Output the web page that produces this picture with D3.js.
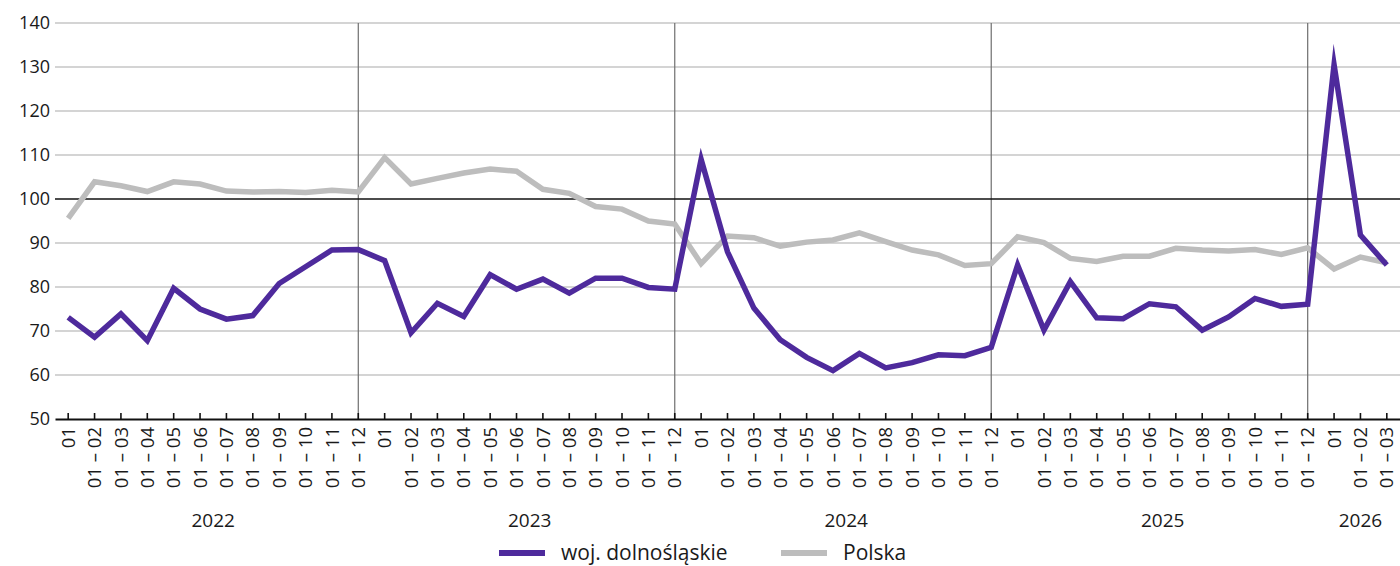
<!DOCTYPE html>
<html>
<head>
<meta charset="utf-8">
<script src="https://cdn.jsdelivr.net/npm/d3@7"></script>
<style>
  html, body { margin: 0; padding: 0; background: #fff; }
  svg { display: block; font-family: "Open Sans", "Noto Sans", sans-serif; }
</style>
</head>
<body>
<svg id="chart" width="1400" height="566"></svg>
<script>
// ---- data ----
const years = ["2022", "2023", "2024", "2025", "2026"];
const monthsPerYear = [12, 12, 12, 12, 3];
const periodLabels = ["01", "01 – 02", "01 – 03", "01 – 04", "01 – 05", "01 – 06",
                      "01 – 07", "01 – 08", "01 – 09", "01 – 10", "01 – 11", "01 – 12"];
const seriesNames = ["woj. dolnośląskie", "Polska"];
const dolnoslaskie = [
  73.1, 68.6, 73.9, 67.8, 79.7, 75.0, 72.7, 73.5, 80.8, 84.6, 88.4, 88.5,
  86.0, 69.6, 76.3, 73.3, 82.8, 79.5, 81.8, 78.6, 82.0, 82.0, 79.9, 79.5,
  109.0, 88.0, 75.2, 68.0, 64.0, 61.0, 64.9, 61.6, 62.8, 64.6, 64.4, 66.3,
  85.0, 70.2, 81.2, 73.0, 72.8, 76.2, 75.5, 70.2, 73.2, 77.4, 75.6, 76.1,
  130.5, 91.8, 85.0
];
const polska = [
  95.6, 103.9, 103.0, 101.7, 103.9, 103.4, 101.8, 101.6, 101.7, 101.5, 102.0, 101.6,
  109.4, 103.4, 104.7, 105.9, 106.8, 106.3, 102.2, 101.3, 98.3, 97.7, 95.0, 94.3,
  85.3, 91.6, 91.2, 89.3, 90.2, 90.7, 92.3, 90.3, 88.4, 87.3, 84.9, 85.3,
  91.4, 90.1, 86.5, 85.8, 87.0, 87.0, 88.8, 88.4, 88.2, 88.5, 87.4, 88.9,
  84.1, 86.8, 85.5
];
const yTicks = [50, 60, 70, 80, 90, 100, 110, 120, 130, 140];

// ---- build categories ----
const cats = [];
years.forEach((yr, yi) => {
  for (let m = 0; m < monthsPerYear[yi]; m++) {
    cats.push({ key: yr + "-" + m, year: yr, yi: yi, label: periodLabels[m], last: m === 11 });
  }
});

const colors = { purple: "#4e2a9c", gray: "#bdbdbd" };
const mLeft = 55, mRight = 1400, mTop = 23, mBottom = 419;

const svg = d3.select("#chart");
const x = d3.scalePoint().domain(cats.map(c => c.key)).range([mLeft, mRight]).padding(0.5);
const y = d3.scaleLinear().domain([50, 140]).range([mBottom, mTop]);

// gridlines
svg.append("g").selectAll("line").data(yTicks.filter(t => t !== 50 && t !== 100)).join("line")
  .attr("x1", mLeft).attr("x2", mRight)
  .attr("y1", d => y(d)).attr("y2", d => y(d))
  .attr("stroke", "#c6c6c6").attr("stroke-width", 1.3);

// year separators
svg.append("g").selectAll("line").data(cats.filter(c => c.last && c.yi < years.length - 1)).join("line")
  .attr("x1", d => x(d.key)).attr("x2", d => x(d.key))
  .attr("y1", y(140)).attr("y2", y(50))
  .attr("stroke", "#6e6e6e").attr("stroke-width", 1.2);

// 100 reference line
svg.append("line").attr("x1", mLeft).attr("x2", mRight)
  .attr("y1", y(100)).attr("y2", y(100))
  .attr("stroke", "#111").attr("stroke-width", 1.6);

// y axis labels
svg.append("g").selectAll("text").data(yTicks).join("text")
  .attr("x", 50).attr("y", d => y(d)).attr("dy", "0.36em")
  .attr("text-anchor", "end").attr("font-size", 18).attr("fill", "#1a1a1a")
  .text(d => d);

// x axis
const xAxis = svg.append("g").attr("transform", `translate(0,${mBottom})`)
  .call(d3.axisBottom(x).tickSize(0).tickFormat(""));
xAxis.select(".domain").attr("stroke", "#111").attr("stroke-width", 2);
svg.append("g").selectAll("line").data(cats).join("line")
  .attr("x1", d => x(d.key)).attr("x2", d => x(d.key))
  .attr("y1", mBottom - 6).attr("y2", mBottom + 1)
  .attr("stroke", "#111").attr("stroke-width", 1.6);

// x labels rotated
svg.append("g").selectAll("text").data(cats).join("text")
  .attr("transform", d => `translate(${x(d.key)},${mBottom + 8}) rotate(-90)`)
  .attr("text-anchor", "end").attr("dy", "0.36em")
  .attr("font-size", 18.5).attr("fill", "#1a1a1a")
  .text(d => d.label);

// year labels
const yearCenters = years.map((yr, yi) => {
  const cs = cats.filter(c => c.yi === yi);
  return { year: yr, cx: (x(cs[0].key) + x(cs[cs.length - 1].key)) / 2 };
});
svg.append("g").selectAll("text").data(yearCenters).join("text")
  .attr("x", d => d.cx).attr("y", 527)
  .attr("text-anchor", "middle").attr("font-size", 19).attr("fill", "#1a1a1a")
  .text(d => d.year);

// lines
const line = d3.line().x((d, i) => x(cats[i].key)).y(d => y(d));
svg.append("path").datum(polska).attr("d", line)
  .attr("fill", "none").attr("stroke", colors.gray).attr("stroke-width", 5.5)
  .attr("stroke-linejoin", "miter").attr("stroke-miterlimit", 10);
svg.append("path").datum(dolnoslaskie).attr("d", line)
  .attr("fill", "none").attr("stroke", colors.purple).attr("stroke-width", 5.5)
  .attr("stroke-linejoin", "miter").attr("stroke-miterlimit", 10);

// legend
const legend = [
  { name: seriesNames[0], color: colors.purple, x0: 499 },
  { name: seriesNames[1], color: colors.gray, x0: 781 }
];
const lg = svg.append("g").selectAll("g").data(legend).join("g")
  .attr("transform", d => `translate(${d.x0},553)`);
lg.append("line").attr("x1", 0).attr("x2", 46).attr("y1", 0).attr("y2", 0)
  .attr("stroke", d => d.color).attr("stroke-width", 6);
lg.append("text").attr("x", 62).attr("dy", "0.33em")
  .attr("font-size", 21).attr("fill", "#1a1a1a").text(d => d.name);
</script>
</body>
</html>
